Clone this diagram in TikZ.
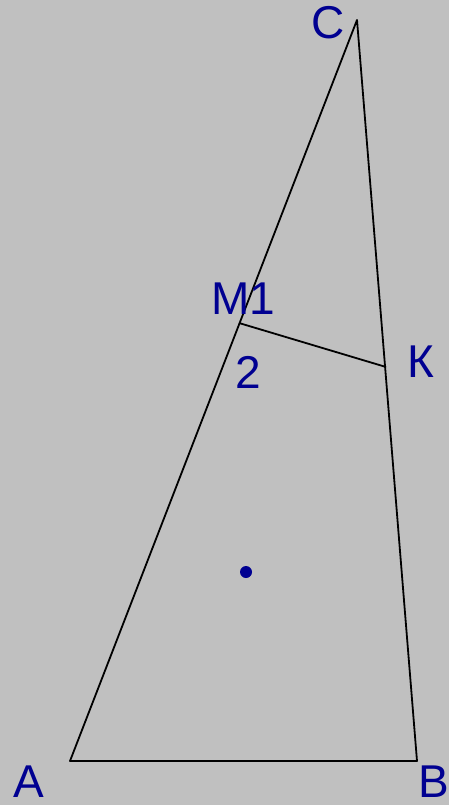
\documentclass[tikz,border=0pt]{standalone}
\usepackage{fontspec}
\setmainfont{Liberation Sans}
\usetikzlibrary{positioning}
\definecolor{slidegray}{RGB}{192,192,192}
\definecolor{labelblue}{RGB}{0,0,145}
\tikzset{
  side/.style={black,line width=1.8pt,line join=round},
  lbl/.style={text=labelblue,inner sep=0pt,font=\fontsize{46}{48}\selectfont}
}

\begin{document}
\begin{tikzpicture}[x=1pt,y=-1pt]
        \useasboundingbox (0,0) rectangle (449,805);
        \fill[slidegray] (0,0) rectangle (449,805);
        % triangle vertices and the segment MK
        \coordinate (A) at (70,761);
        \coordinate (B) at (417,761);
        \coordinate (C) at (357,20);
        \coordinate (M) at (239,323);
        \coordinate (K) at (386,367);
        \draw[side] (A) -- (B) -- (C) -- cycle;
        \draw[side] (M) -- (K);
        \fill[labelblue] (246,572) circle (6);
        % labels
        \node[lbl] (la) at (29,782) {А};
        \node[lbl] (lb) at (434,782) {В};
        \node[lbl] (lc) at (328,23) {С};
        \node[lbl] (lm) at (243,299) {М1};
        \node[lbl] (l2) at (248,372) {2};
        \node[lbl] (lk) at (421,362) {К};
      \end{tikzpicture}
\end{document}
